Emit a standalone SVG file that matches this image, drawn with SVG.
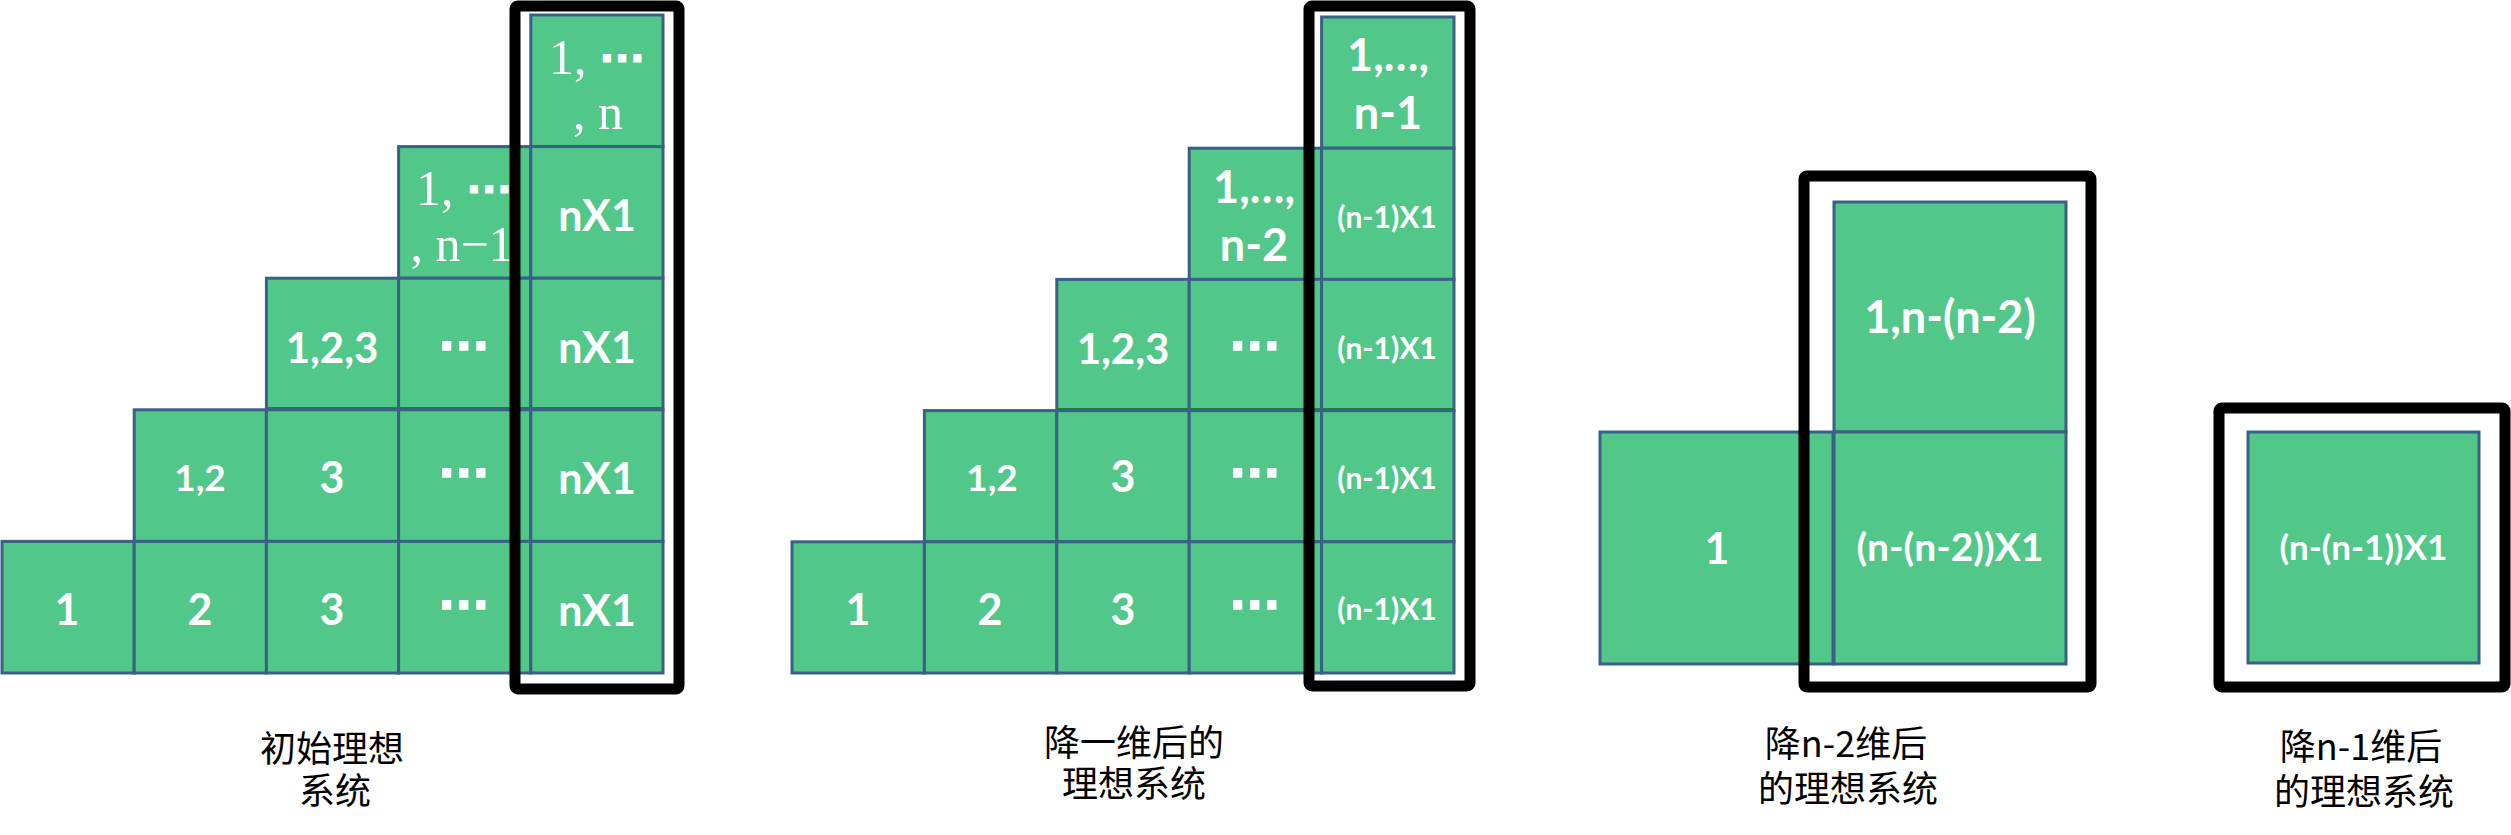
<svg xmlns="http://www.w3.org/2000/svg" width="2511" height="835" viewBox="0 0 2511 835">
<style>
.c{fill:#52C78A;stroke:#3A6088;stroke-width:3}
.bx{fill:none;stroke:#000;stroke-width:11}
.t{font-family:Lato,"Open Sans","Liberation Sans",sans-serif;font-weight:700;fill:#fff;text-anchor:middle;font-size:43px}
.m{font-size:30px}
.e{font-size:45px}
.s{font-family:"Liberation Serif","DejaVu Serif",serif;fill:#fff;text-anchor:middle;font-size:50px}
.sd{font-family:"DejaVu Sans",sans-serif;font-weight:700;font-size:46px}
.d{font-family:"DejaVu Sans",sans-serif;font-weight:700;fill:#fff;text-anchor:middle;font-size:52px}
.l{font-family:"Noto Sans CJK SC","Noto Sans",sans-serif;fill:#000;text-anchor:middle;font-size:36px}
.sh{stroke:#1F7A4D;stroke-width:2}
</style>
<rect width="2511" height="835" fill="#fff"/>
<g id="connectors"/>

<!-- Diagram 1 -->
<g id="d1">
<g id="d1-r1c5"><rect class="c" x="530.8" y="15" width="132.2" height="131.6"/><text class="s"><tspan x="597" y="74">1, <tspan class="sd">⋯</tspan></tspan><tspan x="598" y="129">, n</tspan></text></g>
<g id="d1-r2c4"><rect class="c" x="398.6" y="146.6" width="132.2" height="131.6"/><text class="s"><tspan x="464" y="205">1, <tspan class="sd">⋯</tspan></tspan><tspan x="462" y="261">, n−1</tspan></text></g>
<g id="d1-r2c5"><rect class="c" x="530.8" y="146.6" width="132.2" height="131.6"/><text class="t" x="597" y="231">nX1</text></g>
<g id="d1-r3c3"><rect class="c" x="266.4" y="278.2" width="132.2" height="131.6"/><text class="t" x="332" y="363" style="font-size:42px">1,2,3</text></g>
<g id="d1-r3c4"><rect class="c" x="398.6" y="278.2" width="132.2" height="131.6"/><text class="d" x="464" y="364">⋯</text></g>
<g id="d1-r3c5"><rect class="c" x="530.8" y="278.2" width="132.2" height="131.6"/><text class="t" x="597" y="363">nX1</text></g>
<line class="sh" x1="266.4" y1="408" x2="663" y2="408"/>
<g id="d1-r4c2"><rect class="c" x="134.2" y="409.8" width="132.2" height="131.6"/><text class="t" x="200" y="491" style="font-size:37px">1,2</text></g>
<g id="d1-r4c3"><rect class="c" x="266.4" y="409.8" width="132.2" height="131.6"/><text class="t" x="332" y="493">3</text></g>
<g id="d1-r4c4"><rect class="c" x="398.6" y="409.8" width="132.2" height="131.6"/><text class="d" x="464" y="491">⋯</text></g>
<g id="d1-r4c5"><rect class="c" x="530.8" y="409.8" width="132.2" height="131.6"/><text class="t" x="597" y="494">nX1</text></g>
<g id="d1-r5c1"><rect class="c" x="2" y="541.4" width="132.2" height="131.6"/><text class="t" x="67" y="625">1</text></g>
<g id="d1-r5c2"><rect class="c" x="134.2" y="541.4" width="132.2" height="131.6"/><text class="t" x="200" y="625">2</text></g>
<g id="d1-r5c3"><rect class="c" x="266.4" y="541.4" width="132.2" height="131.6"/><text class="t" x="332" y="625">3</text></g>
<g id="d1-r5c4"><rect class="c" x="398.6" y="541.4" width="132.2" height="131.6"/><text class="d" x="464" y="623">⋯</text></g>
<g id="d1-r5c5"><rect class="c" x="530.8" y="541.4" width="132.2" height="131.6"/><text class="t" x="597" y="626">nX1</text></g>
<g id="d1-box"><rect class="bx" x="515" y="6" width="164" height="683" rx="3"/></g>
<g id="d1-label"><text class="l"><tspan x="332" y="762">初始理想</tspan><tspan x="335" y="804">系统</tspan></text></g>
</g>

<!-- Diagram 2 -->
<g id="d2">
<g id="d2-r1c5"><rect class="c" x="1321.6" y="17" width="132.4" height="131.2"/><text class="t e"><tspan x="1388" y="71">1,…,</tspan><tspan x="1388" y="129">n-1</tspan></text></g>
<g id="d2-r2c4"><rect class="c" x="1189.2" y="148.2" width="132.4" height="131.2"/><text class="t e"><tspan x="1254" y="203">1,…,</tspan><tspan x="1254" y="261">n-2</tspan></text></g>
<g id="d2-r2c5"><rect class="c" x="1321.6" y="148.2" width="132.4" height="131.2"/><text class="t m" x="1387" y="228">(n-1)X1</text></g>
<g id="d2-r3c3"><rect class="c" x="1056.8" y="279.4" width="132.4" height="131.2"/><text class="t" x="1123" y="364" style="font-size:42px">1,2,3</text></g>
<g id="d2-r3c4"><rect class="c" x="1189.2" y="279.4" width="132.4" height="131.2"/><text class="d" x="1255" y="364">⋯</text></g>
<g id="d2-r3c5"><rect class="c" x="1321.6" y="279.4" width="132.4" height="131.2"/><text class="t m" x="1387" y="359">(n-1)X1</text></g>
<line class="sh" x1="1056.8" y1="409" x2="1454" y2="409"/>
<g id="d2-r4c2"><rect class="c" x="924.4" y="410.6" width="132.4" height="131.2"/><text class="t" x="992" y="491" style="font-size:37px">1,2</text></g>
<g id="d2-r4c3"><rect class="c" x="1056.8" y="410.6" width="132.4" height="131.2"/><text class="t" x="1123" y="492">3</text></g>
<g id="d2-r4c4"><rect class="c" x="1189.2" y="410.6" width="132.4" height="131.2"/><text class="d" x="1255" y="491">⋯</text></g>
<g id="d2-r4c5"><rect class="c" x="1321.6" y="410.6" width="132.4" height="131.2"/><text class="t m" x="1387" y="489">(n-1)X1</text></g>
<g id="d2-r5c1"><rect class="c" x="792" y="541.8" width="132.4" height="131.2"/><text class="t" x="858" y="625">1</text></g>
<g id="d2-r5c2"><rect class="c" x="924.4" y="541.8" width="132.4" height="131.2"/><text class="t" x="990" y="625">2</text></g>
<g id="d2-r5c3"><rect class="c" x="1056.8" y="541.8" width="132.4" height="131.2"/><text class="t" x="1123" y="625">3</text></g>
<g id="d2-r5c4"><rect class="c" x="1189.2" y="541.8" width="132.4" height="131.2"/><text class="d" x="1255" y="623">⋯</text></g>
<g id="d2-r5c5"><rect class="c" x="1321.6" y="541.8" width="132.4" height="131.2"/><text class="t m" x="1387" y="620">(n-1)X1</text></g>
<g id="d2-box"><rect class="bx" x="1309" y="6" width="161" height="680" rx="3"/></g>
<g id="d2-label"><text class="l"><tspan x="1134" y="756">降一维后的</tspan><tspan x="1134" y="797">理想系统</tspan></text></g>
</g>

<!-- Diagram 3 -->
<g id="d3">
<g id="d3-left"><rect class="c" x="1600" y="432" width="233" height="232"/><text class="t" x="1717" y="564">1</text></g>
<g id="d3-top"><rect class="c" x="1834" y="202" width="232" height="230"/><text class="t" x="1950" y="333" style="font-size:45px">1,n-(n-2)</text></g>
<g id="d3-bottom"><rect class="c" x="1834" y="432" width="232" height="232"/><text class="t" x="1950" y="561" style="font-size:39px">(n-(n-2))X1</text></g>
<g id="d3-box"><rect class="bx" x="1804" y="176" width="287" height="511" rx="3"/></g>
<g id="d3-label"><text class="l"><tspan x="1846" y="757">降n-2维后</tspan><tspan x="1848" y="802">的理想系统</tspan></text></g>
</g>

<!-- Diagram 4 -->
<g id="d4">
<g id="d4-cell"><rect class="c" x="2248" y="432" width="231" height="231"/><text class="t" x="2363.5" y="560" style="font-size:35px">(n-(n-1))X1</text></g>
<g id="d4-box"><rect class="bx" x="2219" y="408" width="286" height="279" rx="3"/></g>
<g id="d4-label"><text class="l"><tspan x="2361" y="760">降n-1维后</tspan><tspan x="2364" y="805">的理想系统</tspan></text></g>
</g>
</svg>
